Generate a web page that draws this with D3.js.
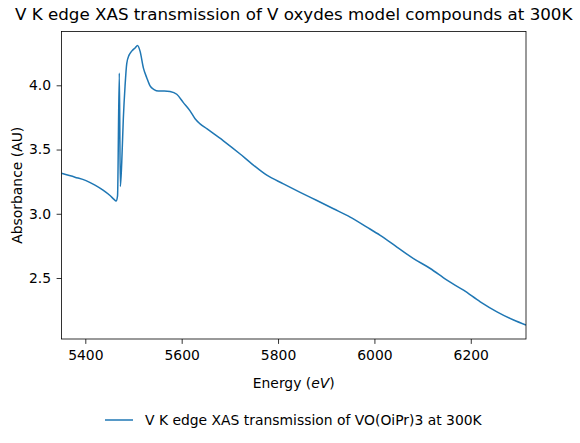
<!DOCTYPE html>
<html>
<head>
<meta charset="utf-8">
<script src="https://cdn.jsdelivr.net/npm/d3@7"></script>
<style>
  html, body { margin: 0; padding: 0; background: #fff; }
  svg text { font-family: "DejaVu Sans", sans-serif; fill: #000; }
</style>
</head>
<body>
<div id="chart"></div>
<script>
// Energy (eV) and absorbance
var energy = [5350.6, 5378.6, 5401.5, 5420.1, 5436.8, 5451.3, 5459.6, 5463.8, 5466.9, 5470.6, 5472.7,
  5475.6, 5478.9, 5482.5, 5486, 5490.8, 5496.4, 5503.2, 5508.4, 5513.6, 5520.5,
  5527.5, 5534.4, 5542.7, 5551.6, 5564, 5575.9, 5589.8, 5603.5, 5617.4, 5627.8,
  5638.2, 5652.1, 5686.6, 5721.3, 5742, 5776.7, 5811.2, 5845.9, 5880.6, 5915,
  5949.7, 5984.4, 6012, 6046.7, 6081.2, 6115.9, 6150.6, 6185, 6219.7, 6254.4,
  6288.9, 6314.6];
var absorbance = [3.315, 3.285, 3.258, 3.223, 3.184, 3.142, 3.112, 3.099, 3.14, 4.095, 3.212,
  3.398, 3.739, 3.995, 4.169, 4.235, 4.266, 4.291, 4.31, 4.266, 4.136,
  4.059, 3.995, 3.967, 3.956, 3.956, 3.952, 3.930, 3.865, 3.801, 3.740,
  3.700, 3.662, 3.568, 3.465, 3.4, 3.300, 3.233, 3.167, 3.103, 3.039,
  2.974, 2.896, 2.832, 2.741, 2.651, 2.574, 2.483, 2.405, 2.315, 2.237,
  2.173, 2.134];
var xTicks = [5400, 5600, 5800, 6000, 6200];
var yTicks = [2.5, 3.0, 3.5, 4.0];
var seriesName = 'V K edge XAS transmission of VO(OiPr)3 at 300K';

var W = 580, H = 443;
var margin = { top: 31.5, right: 54, bottom: 104, left: 61.5 };
var width = W - margin.left - margin.right;
var height = H - margin.top - margin.bottom;
var fs = '13.9px';

var svg = d3.select('#chart').append('svg')
  .attr('width', W).attr('height', H);

var g = svg.append('g')
  .attr('transform', 'translate(' + margin.left + ',' + margin.top + ')');

var data = energy.map(function(e, i) { return { e: e, a: absorbance[i] }; });

var x = d3.scaleLinear()
  .domain(d3.extent(energy))
  .range([0, width]);

var yExt = d3.extent(absorbance);
var pad = (yExt[1] - yExt[0]) * 0.05;
var y = d3.scaleLinear()
  .domain([yExt[0] - pad, yExt[1] + pad])
  .range([height, 0]);

var line = d3.line()
  .x(function(d) { return x(d.e); })
  .y(function(d) { return y(d.a); })
  .curve(d3.curveMonotoneX);

g.append('defs').append('clipPath').attr('id', 'clip')
  .append('rect').attr('width', width).attr('height', height);

g.append('path')
  .datum(data)
  .attr('d', line)
  .attr('clip-path', 'url(#clip)')
  .attr('fill', 'none')
  .attr('stroke', '#1f77b4')
  .attr('stroke-width', 1.5)
  .attr('stroke-linejoin', 'round');

// axes
var xAxis = g.append('g')
  .attr('transform', 'translate(0,' + height + ')')
  .call(d3.axisBottom(x).tickValues(xTicks).tickSize(4.9).tickPadding(6)
    .tickFormat(d3.format('d')));
var yAxis = g.append('g')
  .call(d3.axisLeft(y).tickValues(yTicks).tickSize(4.9).tickPadding(5.5)
    .tickFormat(d3.format('.1f')));

[xAxis, yAxis].forEach(function(a) {
  a.select('.domain').remove();
  a.selectAll('.tick line').attr('stroke', '#000').attr('stroke-width', 0.8);
  a.selectAll('.tick text')
    .style('font-family', '"DejaVu Sans", sans-serif')
    .style('font-size', fs)
    .attr('fill', '#000');
});

// frame
g.append('rect')
  .attr('width', width).attr('height', height)
  .attr('fill', 'none').attr('stroke', '#000').attr('stroke-width', 0.8);

// title
svg.append('text')
  .attr('x', margin.left + width / 2).attr('y', 19.5)
  .attr('text-anchor', 'middle')
  .style('font-size', '16.7px')
  .text('V K edge XAS transmission of V oxydes model compounds at 300K');

// axis labels
var xl = svg.append('text')
  .attr('x', margin.left + width / 2).attr('y', 387.5)
  .attr('text-anchor', 'middle')
  .style('font-size', fs);
xl.append('tspan').text('Energy (');
xl.append('tspan').style('font-style', 'italic').text('eV');
xl.append('tspan').text(')');

svg.append('text')
  .attr('transform', 'translate(22,' + (margin.top + height / 2) + ') rotate(-90)')
  .attr('text-anchor', 'middle')
  .style('font-size', fs)
  .text('Absorbance (AU)');

// legend
var lg = svg.append('g').attr('transform', 'translate(105,420)');
lg.append('line')
  .attr('x1', 0).attr('x2', 28).attr('y1', 0).attr('y2', 0)
  .attr('stroke', '#1f77b4').attr('stroke-width', 1.5);
lg.append('text')
  .attr('x', 40).attr('y', 5)
  .style('font-size', fs)
  .text(seriesName);
</script>
</body>
</html>
